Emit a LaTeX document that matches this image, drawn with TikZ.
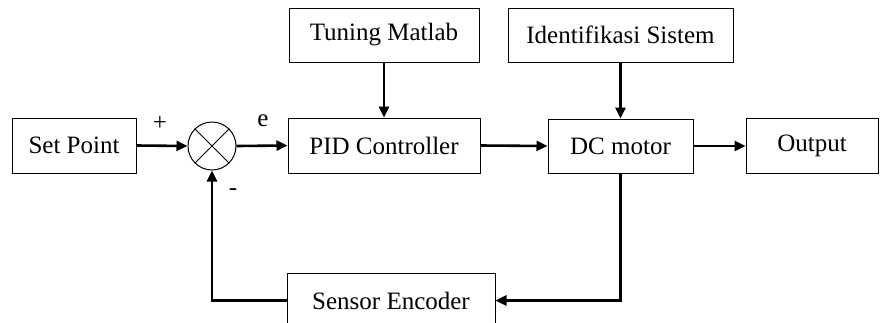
\documentclass[tikz,border=0pt]{standalone}
\usepackage{fontspec}
\setmainfont{Liberation Serif}
\usetikzlibrary{arrows.meta}
\begin{document}
\begin{tikzpicture}[x=1pt,y=-1pt,
  blk/.style={draw, line width=1pt, rectangle, inner sep=0pt, font=\fontsize{25}{30}\selectfont},
  sig/.style={line width=2.6pt, -{Triangle[length=11pt,width=10pt]}},
  lbl/.style={font=\fontsize{25}{30}\selectfont, inner sep=0pt}]
\useasboundingbox (0,0) rectangle (880,322);
\node[blk, minimum width=124pt, minimum height=55pt] (sp) at (74,145.5) {Set Point};
\node[draw, line width=1pt, circle, minimum size=48pt, inner sep=0pt] (sum) at (212,146) {};
\draw[line width=1pt] (sum.45) -- (sum.225) (sum.135) -- (sum.315);
\node[blk, minimum width=192pt, minimum height=55pt] (pid) at (384,145.5) {PID Controller};
\node[blk, minimum width=145pt, minimum height=54pt] (dc) at (620.5,146) {DC motor};
\node[blk, minimum width=132pt, minimum height=55pt] (out) at (812,146) {Output};
\node[blk, minimum width=190pt, minimum height=54pt] (tun) at (384,35) {Tuning Matlab};
\node[blk, minimum width=225pt, minimum height=54pt] (ids) at (620.5,35) {Identifikasi Sistem};
\node[blk, minimum width=208pt, minimum height=55pt] (sen) at (391,300.5) {Sensor Encoder};
\node[lbl] (plus) at (160,123) {+};
\node[lbl] (e) at (263,121) {e};
\node[lbl] (minus) at (233,192) {-};
\draw[sig] (sp.east) -- (sum.west);
\draw[sig] (sum.east) -- (pid.west);
\draw[sig] (pid.east) -- (dc.west);
\draw[sig] (dc.east) -- (out.west);
\draw[sig] (tun.south) -- (pid.north);
\draw[sig] (ids.south) -- (dc.north);
\draw[sig] (dc.south) |- (sen.east);
\draw[sig] (sen.west) -| (sum.south);
\end{tikzpicture}
\end{document}
